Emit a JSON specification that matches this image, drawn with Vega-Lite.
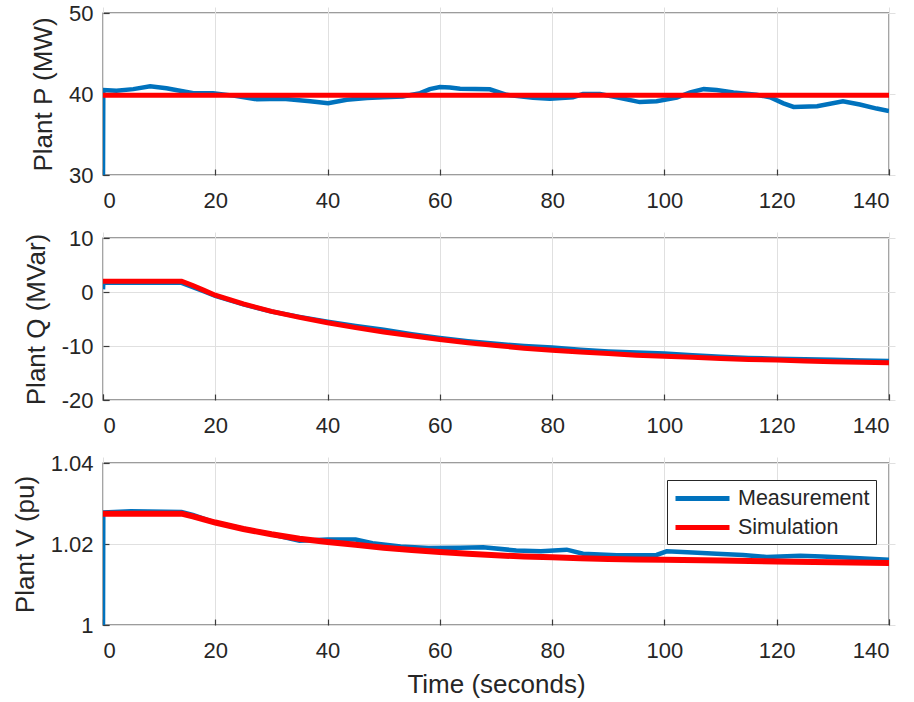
{
  "$schema": "https://vega.github.io/schema/vega-lite/v6.json",
  "background": "white",
  "padding": {"left": 11, "top": 1, "right": 5, "bottom": 5},
  "config": {
    "view": {"stroke": "#3a3a3a", "strokeWidth": 1.3},
    "font": "Liberation Sans",
    "concat": {"spacing": 14},
    "axis": {
      "labelFont": "Liberation Sans", "titleFont": "Liberation Sans",
      "labelFontSize": 22, "titleFontSize": 26, "titleFontWeight": "normal",
      "labelColor": "#262626", "titleColor": "#262626",
      "domain": false, "grid": true, "gridColor": "#e0e0e0", "gridWidth": 1,
      "ticks": true, "tickColor": "#3a3a3a", "tickSize": 6, "tickWidth": 1.2, "offset": -6,
      "labelExpr": "replace(datum.label, '\u2212', '-')"
    },
    "axisX": {"labelPadding": 15, "titlePadding": 10},
    "axisY": {"labelPadding": 10, "titlePadding": 12},
    "legend": {
      "labelFont": "Liberation Sans", "labelFontSize": 21.5, "labelColor": "#262626"
    }
  },
  "datasets": {
    "d": [
      {"panel":"P","series":"Measurement","t":0,"value":30},
      {"panel":"P","series":"Measurement","t":0.05,"value":40.5},
      {"panel":"P","series":"Measurement","t":2.4,"value":40.4},
      {"panel":"P","series":"Measurement","t":5.4,"value":40.6},
      {"panel":"P","series":"Measurement","t":8.4,"value":40.95},
      {"panel":"P","series":"Measurement","t":11.3,"value":40.7},
      {"panel":"P","series":"Measurement","t":13.7,"value":40.4},
      {"panel":"P","series":"Measurement","t":16.1,"value":40.1},
      {"panel":"P","series":"Measurement","t":19.6,"value":40.1},
      {"panel":"P","series":"Measurement","t":23.2,"value":39.8},
      {"panel":"P","series":"Measurement","t":27.4,"value":39.35},
      {"panel":"P","series":"Measurement","t":32.1,"value":39.4},
      {"panel":"P","series":"Measurement","t":36.9,"value":39.1},
      {"panel":"P","series":"Measurement","t":40.1,"value":38.85},
      {"panel":"P","series":"Measurement","t":43.4,"value":39.3},
      {"panel":"P","series":"Measurement","t":47,"value":39.5},
      {"panel":"P","series":"Measurement","t":49.9,"value":39.6},
      {"panel":"P","series":"Measurement","t":53.4,"value":39.7},
      {"panel":"P","series":"Measurement","t":56.5,"value":40.1},
      {"panel":"P","series":"Measurement","t":58.2,"value":40.6},
      {"panel":"P","series":"Measurement","t":60,"value":40.85},
      {"panel":"P","series":"Measurement","t":61.8,"value":40.8},
      {"panel":"P","series":"Measurement","t":63.6,"value":40.65},
      {"panel":"P","series":"Measurement","t":68.9,"value":40.58},
      {"panel":"P","series":"Measurement","t":71.9,"value":39.9},
      {"panel":"P","series":"Measurement","t":76.6,"value":39.55},
      {"panel":"P","series":"Measurement","t":79.6,"value":39.4},
      {"panel":"P","series":"Measurement","t":83.7,"value":39.6},
      {"panel":"P","series":"Measurement","t":85.5,"value":40.0},
      {"panel":"P","series":"Measurement","t":88.5,"value":40.0},
      {"panel":"P","series":"Measurement","t":91.5,"value":39.6},
      {"panel":"P","series":"Measurement","t":95.6,"value":39.0},
      {"panel":"P","series":"Measurement","t":98.6,"value":39.1},
      {"panel":"P","series":"Measurement","t":102.2,"value":39.55},
      {"panel":"P","series":"Measurement","t":104.6,"value":40.2},
      {"panel":"P","series":"Measurement","t":107,"value":40.6},
      {"panel":"P","series":"Measurement","t":109.3,"value":40.5},
      {"panel":"P","series":"Measurement","t":112.3,"value":40.2},
      {"panel":"P","series":"Measurement","t":116.4,"value":39.9},
      {"panel":"P","series":"Measurement","t":118.8,"value":39.6},
      {"panel":"P","series":"Measurement","t":121.2,"value":38.85},
      {"panel":"P","series":"Measurement","t":123,"value":38.4},
      {"panel":"P","series":"Measurement","t":127.2,"value":38.5},
      {"panel":"P","series":"Measurement","t":131.8,"value":39.1},
      {"panel":"P","series":"Measurement","t":134.8,"value":38.7},
      {"panel":"P","series":"Measurement","t":137.8,"value":38.2},
      {"panel":"P","series":"Measurement","t":140,"value":37.9},
      {"panel":"P","series":"Simulation","t":0,"value":39.85},
      {"panel":"P","series":"Simulation","t":140,"value":39.85},

      {"panel":"Q","series":"Measurement","t":0,"value":0.5},
      {"panel":"Q","series":"Measurement","t":0.05,"value":1.7},
      {"panel":"Q","series":"Measurement","t":14,"value":1.7},
      {"panel":"Q","series":"Measurement","t":16,"value":0.9},
      {"panel":"Q","series":"Measurement","t":18,"value":0.1},
      {"panel":"Q","series":"Measurement","t":20,"value":-0.7},
      {"panel":"Q","series":"Measurement","t":25,"value":-2.3},
      {"panel":"Q","series":"Measurement","t":30,"value":-3.6},
      {"panel":"Q","series":"Measurement","t":35,"value":-4.6},
      {"panel":"Q","series":"Measurement","t":40,"value":-5.5},
      {"panel":"Q","series":"Measurement","t":45,"value":-6.3},
      {"panel":"Q","series":"Measurement","t":50,"value":-7.0},
      {"panel":"Q","series":"Measurement","t":55,"value":-7.8},
      {"panel":"Q","series":"Measurement","t":60,"value":-8.5},
      {"panel":"Q","series":"Measurement","t":65,"value":-9.1},
      {"panel":"Q","series":"Measurement","t":70,"value":-9.6},
      {"panel":"Q","series":"Measurement","t":75,"value":-10.0},
      {"panel":"Q","series":"Measurement","t":80,"value":-10.3},
      {"panel":"Q","series":"Measurement","t":85,"value":-10.7},
      {"panel":"Q","series":"Measurement","t":90,"value":-11.0},
      {"panel":"Q","series":"Measurement","t":95,"value":-11.2},
      {"panel":"Q","series":"Measurement","t":100,"value":-11.4},
      {"panel":"Q","series":"Measurement","t":105,"value":-11.7},
      {"panel":"Q","series":"Measurement","t":110,"value":-12.0},
      {"panel":"Q","series":"Measurement","t":115,"value":-12.2},
      {"panel":"Q","series":"Measurement","t":120,"value":-12.35},
      {"panel":"Q","series":"Measurement","t":125,"value":-12.45},
      {"panel":"Q","series":"Measurement","t":130,"value":-12.55},
      {"panel":"Q","series":"Measurement","t":135,"value":-12.7},
      {"panel":"Q","series":"Measurement","t":140,"value":-12.8},
      {"panel":"Q","series":"Simulation","t":0,"value":2.0},
      {"panel":"Q","series":"Simulation","t":14,"value":2.0},
      {"panel":"Q","series":"Simulation","t":16,"value":1.2},
      {"panel":"Q","series":"Simulation","t":18,"value":0.3},
      {"panel":"Q","series":"Simulation","t":20,"value":-0.6},
      {"panel":"Q","series":"Simulation","t":25,"value":-2.2},
      {"panel":"Q","series":"Simulation","t":30,"value":-3.6},
      {"panel":"Q","series":"Simulation","t":35,"value":-4.7},
      {"panel":"Q","series":"Simulation","t":40,"value":-5.7},
      {"panel":"Q","series":"Simulation","t":45,"value":-6.6},
      {"panel":"Q","series":"Simulation","t":50,"value":-7.4},
      {"panel":"Q","series":"Simulation","t":55,"value":-8.1},
      {"panel":"Q","series":"Simulation","t":60,"value":-8.8},
      {"panel":"Q","series":"Simulation","t":65,"value":-9.4},
      {"panel":"Q","series":"Simulation","t":70,"value":-9.9},
      {"panel":"Q","series":"Simulation","t":75,"value":-10.4},
      {"panel":"Q","series":"Simulation","t":80,"value":-10.8},
      {"panel":"Q","series":"Simulation","t":85,"value":-11.1},
      {"panel":"Q","series":"Simulation","t":90,"value":-11.4},
      {"panel":"Q","series":"Simulation","t":95,"value":-11.7},
      {"panel":"Q","series":"Simulation","t":100,"value":-11.9},
      {"panel":"Q","series":"Simulation","t":105,"value":-12.1},
      {"panel":"Q","series":"Simulation","t":110,"value":-12.3},
      {"panel":"Q","series":"Simulation","t":115,"value":-12.5},
      {"panel":"Q","series":"Simulation","t":120,"value":-12.6},
      {"panel":"Q","series":"Simulation","t":125,"value":-12.8},
      {"panel":"Q","series":"Simulation","t":130,"value":-12.9},
      {"panel":"Q","series":"Simulation","t":135,"value":-13.0},
      {"panel":"Q","series":"Simulation","t":140,"value":-13.1},

      {"panel":"V","series":"Measurement","t":0,"value":1.0},
      {"panel":"V","series":"Measurement","t":0.05,"value":1.0278},
      {"panel":"V","series":"Measurement","t":5,"value":1.0281},
      {"panel":"V","series":"Measurement","t":14,"value":1.0279},
      {"panel":"V","series":"Measurement","t":16,"value":1.0272},
      {"panel":"V","series":"Measurement","t":20,"value":1.0253},
      {"panel":"V","series":"Measurement","t":25,"value":1.0238},
      {"panel":"V","series":"Measurement","t":30,"value":1.0224},
      {"panel":"V","series":"Measurement","t":35,"value":1.0208},
      {"panel":"V","series":"Measurement","t":40,"value":1.0211},
      {"panel":"V","series":"Measurement","t":45,"value":1.0211},
      {"panel":"V","series":"Measurement","t":48,"value":1.0202},
      {"panel":"V","series":"Measurement","t":53,"value":1.0194},
      {"panel":"V","series":"Measurement","t":58,"value":1.0190},
      {"panel":"V","series":"Measurement","t":63.6,"value":1.0191},
      {"panel":"V","series":"Measurement","t":67.7,"value":1.0192},
      {"panel":"V","series":"Measurement","t":73.6,"value":1.0184},
      {"panel":"V","series":"Measurement","t":78,"value":1.0182},
      {"panel":"V","series":"Measurement","t":82.6,"value":1.0186},
      {"panel":"V","series":"Measurement","t":85.5,"value":1.0176},
      {"panel":"V","series":"Measurement","t":91.5,"value":1.0172},
      {"panel":"V","series":"Measurement","t":98.6,"value":1.0173},
      {"panel":"V","series":"Measurement","t":100.4,"value":1.0182},
      {"panel":"V","series":"Measurement","t":105,"value":1.0179},
      {"panel":"V","series":"Measurement","t":109.3,"value":1.0176},
      {"panel":"V","series":"Measurement","t":114,"value":1.0173},
      {"panel":"V","series":"Measurement","t":118.2,"value":1.0168},
      {"panel":"V","series":"Measurement","t":124.2,"value":1.0171},
      {"panel":"V","series":"Measurement","t":128,"value":1.0169},
      {"panel":"V","series":"Measurement","t":133,"value":1.0166},
      {"panel":"V","series":"Measurement","t":140,"value":1.0161},
      {"panel":"V","series":"Simulation","t":0,"value":1.0275},
      {"panel":"V","series":"Simulation","t":14,"value":1.0275},
      {"panel":"V","series":"Simulation","t":16,"value":1.0268},
      {"panel":"V","series":"Simulation","t":20,"value":1.0253},
      {"panel":"V","series":"Simulation","t":25,"value":1.0237},
      {"panel":"V","series":"Simulation","t":30,"value":1.0224},
      {"panel":"V","series":"Simulation","t":35,"value":1.0213},
      {"panel":"V","series":"Simulation","t":40,"value":1.0205},
      {"panel":"V","series":"Simulation","t":45,"value":1.0198},
      {"panel":"V","series":"Simulation","t":50,"value":1.0191},
      {"panel":"V","series":"Simulation","t":55,"value":1.0185},
      {"panel":"V","series":"Simulation","t":60,"value":1.0180},
      {"panel":"V","series":"Simulation","t":65,"value":1.0176},
      {"panel":"V","series":"Simulation","t":70,"value":1.0172},
      {"panel":"V","series":"Simulation","t":75,"value":1.0169},
      {"panel":"V","series":"Simulation","t":80,"value":1.0167},
      {"panel":"V","series":"Simulation","t":85,"value":1.0165},
      {"panel":"V","series":"Simulation","t":90,"value":1.0163},
      {"panel":"V","series":"Simulation","t":95,"value":1.0162},
      {"panel":"V","series":"Simulation","t":100,"value":1.0161},
      {"panel":"V","series":"Simulation","t":110,"value":1.0159},
      {"panel":"V","series":"Simulation","t":120,"value":1.0157},
      {"panel":"V","series":"Simulation","t":130,"value":1.0155},
      {"panel":"V","series":"Simulation","t":140,"value":1.0153}
    ]
  },
  "resolve": {"scale": {"color": "independent"}},
  "vconcat": [
    {
      "width": 786, "height": 162,
      "data": {"name": "d"},
      "transform": [{"filter": "datum.panel === 'P'"}],
      "encoding": {
        "x": {"field": "t", "type": "quantitative", "scale": {"domain": [0, 140], "nice": false},
              "axis": {"values": [0,20,40,60,80,100,120,140], "title": null}},
        "y": {"field": "value", "type": "quantitative", "scale": {"domain": [30, 50], "nice": false, "zero": false},
              "axis": {"values": [30,40,50], "title": "Plant P (MW)"}},
        "color": {"field": "series", "type": "nominal",
                  "scale": {"domain": ["Measurement","Simulation"], "range": ["#0072BD","#FF0000"]}, "legend": null}
      },
      "layer": [
        {"transform": [{"filter": "datum.series === 'Measurement'"}], "mark": {"type": "line", "strokeWidth": 4.5, "clip": true}},
        {"transform": [{"filter": "datum.series === 'Simulation'"}], "mark": {"type": "line", "strokeWidth": 5, "clip": true}}
      ]
    },
    {
      "width": 786, "height": 162,
      "data": {"name": "d"},
      "transform": [{"filter": "datum.panel === 'Q'"}],
      "encoding": {
        "x": {"field": "t", "type": "quantitative", "scale": {"domain": [0, 140], "nice": false},
              "axis": {"values": [0,20,40,60,80,100,120,140], "title": null}},
        "y": {"field": "value", "type": "quantitative", "scale": {"domain": [-20, 10], "nice": false, "zero": false},
              "axis": {"values": [-20,-10,0,10], "title": "Plant Q (MVar)"}},
        "color": {"field": "series", "type": "nominal",
                  "scale": {"domain": ["Measurement","Simulation"], "range": ["#0072BD","#FF0000"]}, "legend": null}
      },
      "layer": [
        {"transform": [{"filter": "datum.series === 'Measurement'"}], "mark": {"type": "line", "strokeWidth": 4.5, "clip": true}},
        {"transform": [{"filter": "datum.series === 'Simulation'"}], "mark": {"type": "line", "strokeWidth": 5, "clip": true}}
      ]
    },
    {
      "width": 786, "height": 162,
      "data": {"name": "d"},
      "transform": [{"filter": "datum.panel === 'V'"}],
      "encoding": {
        "x": {"field": "t", "type": "quantitative", "scale": {"domain": [0, 140], "nice": false},
              "axis": {"values": [0,20,40,60,80,100,120,140], "title": "Time (seconds)"}},
        "y": {"field": "value", "type": "quantitative", "scale": {"domain": [1, 1.04], "nice": false, "zero": false},
              "axis": {"values": [1,1.02,1.04], "format": "~g", "title": "Plant V (pu)"}},
        "color": {"field": "series", "type": "nominal",
                  "scale": {"domain": ["Measurement","Simulation"], "range": ["#0072BD","#FF0000"]},
                  "legend": {"title": null, "orient": "none", "legendX": 564, "legendY": 17,
                             "fillColor": "white", "strokeColor": "#262626", "padding": 6,
                             "symbolType": "M-1,0H4.4", "symbolSize": 400, "symbolStrokeWidth": 5,
                             "labelOffset": 40, "rowPadding": 6}}
      },
      "layer": [
        {"transform": [{"filter": "datum.series === 'Measurement'"}], "mark": {"type": "line", "strokeWidth": 4.5, "clip": true}},
        {"transform": [{"filter": "datum.series === 'Simulation'"}], "mark": {"type": "line", "strokeWidth": 6, "clip": true}}
      ]
    }
  ]
}
